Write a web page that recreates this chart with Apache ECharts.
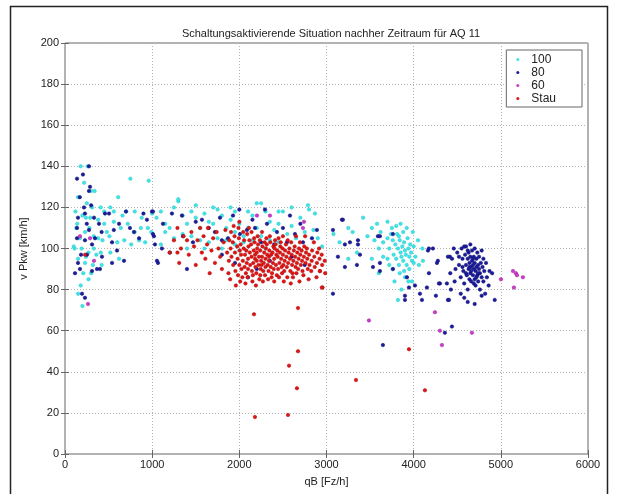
<!DOCTYPE html>
<html><head><meta charset="utf-8">
<script src="https://cdn.jsdelivr.net/npm/echarts@6/dist/echarts.min.js"></script>
<style>html,body{margin:0;padding:0;background:#fff}#c{width:617px;height:494px}</style>
</head><body><div id="c"></div>
<script>
const titleText = "Schaltungsaktivierende Situation nachher Zeitraum für AQ 11";
const seriesNames = ["100", "80", "60", "Stau"];
const xTicks = [0, 1000, 2000, 3000, 4000, 5000, 6000];
const yTicks = [0, 20, 40, 60, 80, 100, 120, 140, 160, 180, 200];

const pts100 = [
[180,140],[260,140],[220,132],[300,128],[340,128],[150,125],[250,122],[410,120],[520,120],[610,125],[700,118],[750,134],[960,133],
[120,118],[200,116],[290,115],[380,114],[450,112],[560,113],[640,110],[720,112],[800,108],[880,115],[950,110],[130,110],[230,108],
[330,106],[430,104],[510,106],[600,103],[680,104],[760,102],[850,104],[920,103],[110,100],[190,100],[270,98],[360,97],[150,95],
[230,93],[320,92],[100,101],[210,88],[270,85],[180,82],[300,88],[420,92],[520,98],[620,95],[480,108],[560,118],[660,116],[380,105],
[140,112],[170,105],[240,115],[310,120],[450,118],[200,72],[150,78],[800,118],[870,110],[240,96],[330,100],[410,98],[280,110],
[990,108],[1000,117],
[1050,115],[1100,118],[1150,112],[1200,110],[1250,120],[1300,123],[1350,116],[1400,112],[1450,118],[1500,115],[1550,110],[1600,117],
[1650,113],[1700,112],[1750,119],[1800,116],[1850,110],[1900,114],[1950,108],[2000,112],[2050,106],[2100,110],[2150,116],[2200,122],
[2250,122],[2300,118],[2350,113],[2400,109],[2450,112],[2500,118],[2550,107],[2600,111],[2700,115],[2800,119],[1150,108],[1250,105],
[1350,107],[1450,106],[1550,104],[1650,103],[1750,105],[1850,104],[1950,102],[2050,103],[2150,104],[2250,106],[2350,104],[2450,103],
[1100,102],[1300,124],[1700,120],[1900,120],[2100,118],[2650,105],[2750,108],[1600,100],[1800,100],[2000,99],[1400,100],[2300,100],
[2200,110],[1950,118],[2450,118],[2850,109],[2950,101],[2900,105],[1500,121],[2600,120],[2787,121],[2867,117],
[3080,107],[3150,103],[3250,110],[3300,108],[3420,115],[3470,106],[3520,110],[3580,112],[3620,108],[3650,103],[3700,105],[3720,100],
[3750,110],[3770,97],[3790,102],[3800,95],[3810,107],[3820,100],[3830,92],[3840,104],[3850,98],[3860,96],[3870,101],[3880,94],
[3890,103],[3900,99],[3910,97],[3920,92],[3930,105],[3940,100],[3950,96],[3960,102],[3970,98],[3980,94],[3990,108],[4000,101],
[4020,96],[4050,104],[3760,90],[3840,88],[3900,86],[3700,95],[3650,96],[3600,100],[3550,104],[3520,95],[3600,88],[3820,75],
[3860,80],[3780,84],[3950,90],[4100,100],[3920,110],[3850,112],[3740,107],[4060,92],[3350,98],[3250,95],[3980,84],[3700,113],
[3800,111],[3890,89],[3940,84],[3830,106],[3760,104],[3880,108],[4000,93],[3720,92],[4106,94]
];

const pts80 = [
[275,140],[138,134],[206,136],[287,130],[275,128],[218,120],[229,117],[149,115],[333,115],[459,117],[505,117],[700,118],[940,114],
[998,118],[138,110],[275,109],[390,112],[745,110],[791,108],[1020,106],[1032,102],[138,105],[229,104],[344,105],[540,103],[310,102],
[184,97],[252,97],[424,96],[597,99],[677,94],[540,93],[149,93],[172,90],[401,90],[115,88],[310,89],[367,90],[195,78],[229,76],
[1067,93],[170,125],[250,112],[420,108],[620,112],[850,105],[900,117],[560,109],[300,121],
[1009,118],[1227,117],[1342,116],[1571,114],[1778,115],[1009,107],[1124,112],[1353,106],[1468,103],[1720,108],[1800,104],[1870,105],
[2007,107],[2087,109],[2179,110],[2317,112],[1055,94],[1399,90],[1112,100],[1204,98],[1927,116],[2294,119],[2432,108],[1800,97],
[2581,116],[2638,107],[2833,105],[2890,109],[2546,103],[2730,103],[2000,119],[2150,114],[2400,102],[2500,110],[2700,112],[1650,110],
[1500,113],[2250,103],[2350,94],[2600,96],[2200,90],[1950,93],[2750,92],[2100,86],
[3177,114],[3074,109],[3269,103],[3361,104],[3590,106],[3131,96],[3211,91],[3349,92],[3613,93],[3074,78],[3188,114],[3211,102],
[3361,102],[3384,97],[3533,91],[3613,89],[3762,90],[3923,86],[3946,81],[3900,77],[3900,75],[4072,78],[4015,82],[4095,75],[4152,81],
[4267,93],[4175,88],[4301,83],[4381,83],[4393,75],[4439,62],[4358,59],[4175,100],[4416,96],[3762,107],[3613,106],[4164,99],
[4221,100],[4278,94],[4393,96],[4290,83],[4427,80],[4255,77],[4405,75],[3647,53],
[4500,98],[4520,92],[4540,86],[4550,100],[4560,95],[4570,89],[4580,83],[4590,97],[4600,92],[4600,101],[4610,87],[4620,95],[4620,80],
[4630,90],[4630,98],[4640,85],[4640,93],[4650,88],[4650,96],[4650,102],[4660,91],[4660,84],[4670,94],[4670,99],[4680,87],[4680,92],
[4690,90],[4690,96],[4700,85],[4700,93],[4700,100],[4710,89],[4710,82],[4720,95],[4720,91],[4730,87],[4730,98],[4740,92],[4740,84],
[4750,90],[4750,96],[4760,88],[4760,80],[4770,93],[4780,86],[4780,99],[4790,91],[4800,84],[4800,95],[4810,89],[4820,78],[4830,93],
[4840,86],[4860,82],[4870,89],[4900,88],[4930,75],[4480,90],[4470,84],[4460,100],[4440,95],[4420,88],[4540,78],[4580,76],[4620,74],
[4700,73],[4780,77],[4600,88],[4640,91],[4660,89],[4680,95],[4720,86],[4560,91],[4520,96],[4580,101],[4620,99],[4740,88],[4690,83]
];

const pts60 = [
[264,73],[172,106],[287,105],[333,94],[2202,116],[2351,116],[2741,113],[2730,110],[3487,65],[4244,69],[4301,60],[4324,53],
[4668,59],[5139,89],[5173,88],[5185,87],[5253,86],[5001,85],[5150,81]
];

const ptsStau = [
[230,97],[1200,98],[1290,110],[1290,98],[1310,93],[1400,104],[1250,104],[1330,100],[1360,106],[1420,97],[1450,108],[1480,101],
[1500,92],[1520,104],[1550,110],[1570,98],[1590,106],[1610,95],[1630,102],[1640,110],[1660,88],[1680,99],[1700,105],[1720,93],
[1740,108],[1760,100],[1780,96],[1800,90],[1820,103],[1840,109],[1860,98],
[1880,94],[1885,104],[1875,88],[1900,100],[1905,108],[1895,85],[1910,96],[1930,92],[1925,103],[1935,111],[1950,98],[1955,89],
[1945,106],[1960,82],[1980,95],[1975,101],[1985,87],[1990,110],[2000,92],[2005,99],[1995,105],[2010,84],[2000,113],[2020,97],
[2025,90],[2015,102],[2040,94],[2045,108],[2035,86],[2050,100],[2060,91],[2065,97],[2055,104],[2070,83],[2080,99],[2085,93],
[2075,88],[2090,107],[2100,95],[2105,101],[2095,86],[2110,110],[2100,90],[2120,98],[2125,92],[2115,104],[2140,96],[2145,89],
[2135,102],[2150,84],[2140,108],[2160,93],[2165,99],[2155,87],[2170,105],[2180,97],[2185,91],[2175,103],[2190,82],[2180,95],
[2200,94],[2205,100],[2195,88],[2210,106],[2200,98],[2220,92],[2225,96],[2215,102],[2230,85],[2240,99],[2245,90],[2235,104],
[2250,94],[2240,87],[2260,96],[2265,101],[2255,92],[2270,84],[2260,108],[2280,93],[2285,98],[2275,89],[2290,103],[2300,95],
[2305,100],[2295,87],[2310,105],[2300,91],[2320,97],[2325,92],[2315,102],[2330,85],[2340,94],[2345,99],[2335,89],[2350,106],
[2340,96],[2360,91],[2365,97],[2355,103],[2370,86],[2380,98],[2385,93],[2375,88],[2390,101],[2400,95],[2405,100],[2395,90],
[2410,104],[2400,84],[2420,92],[2425,97],[2415,102],[2430,87],[2440,96],[2445,90],[2435,99],[2450,105],[2460,93],[2465,98],
[2455,86],[2470,101],[2480,95],[2485,91],[2475,103],[2490,88],[2500,97],[2505,92],[2495,100],[2510,84],[2500,106],[2520,94],
[2525,99],[2515,89],[2540,96],[2545,91],[2535,102],[2550,86],[2560,93],[2565,98],[2555,104],[2580,95],[2585,89],[2575,100],
[2590,83],[2600,97],[2605,92],[2595,103],[2610,88],[2620,94],[2625,99],[2615,86],[2640,96],[2645,91],[2635,101],[2650,106],
[2660,93],[2665,98],[2655,88],[2680,95],[2685,100],[2675,90],[2690,84],[2700,97],[2705,92],[2695,103],[2720,94],[2725,89],
[2715,99],[2740,96],[2745,101],[2735,87],[2760,93],[2765,98],[2755,106],[2780,95],[2785,90],[2775,100],[2800,97],[2805,92],
[2795,85],[2830,94],[2835,99],[2825,89],[2860,96],[2865,91],[2855,103],[2890,93],[2895,98],[2885,86],[2920,95],[2925,89],
[2915,100],[2950,92],[2955,81],[2945,97],[2980,94],[2985,88],
[2168,68],[2673,71],[2673,50],[2570,43],[2661,32],[2179,18],[2558,19],[3338,36],[3946,51],[4129,31],[2947,81],[2924,89]
];

const colors = ["#3ee6e6", "#1c1c9e", "#cc3ccc", "#e01414"];
const borders = ["#28c4cc", "#0c0c70", "#a020a0", "#b00a0a"];
const dataSets = [pts100, pts80, pts60, ptsStau];

const chart = echarts.init(document.getElementById('c'), null, {renderer: 'canvas'});
const font = "'Liberation Sans', Arial, sans-serif";
const gridLine = {show: true, lineStyle: {color: '#b4b4b4', type: [1, 2], width: 1}};
chart.setOption({
  animation: false,
  backgroundColor: '#fff',
  graphic: [{type: 'rect', shape: {x: 10.5, y: 6.5, width: 597, height: 500}, style: {fill: 'none', stroke: '#222', lineWidth: 1.5}, z: 100}],
  title: {text: titleText, left: 326, top: 23, textAlign: 'center',
    textStyle: {fontFamily: font, fontSize: 11, fontWeight: 'normal', color: '#222'}},
  grid: {left: 65, right: 29, top: 43, bottom: 40, show: true, borderColor: '#666', borderWidth: 1},
  legend: {
    data: seriesNames.map(n => ({name: n, icon: 'circle'})), orient: 'vertical', right: 35, top: 50,
    backgroundColor: '#fff', borderColor: '#666', borderWidth: 1,
    padding: [3, 26, 2, 10], itemGap: 0, itemWidth: 3, itemHeight: 3,
    itemStyle: {borderWidth: 0},
    textStyle: {fontFamily: font, fontSize: 12, color: '#222', padding: [0, 0, 0, 7], lineHeight: 13}
  },
  xAxis: [{
    type: 'value', min: 0, max: 6000, interval: 1000, name: 'qB [Fz/h]', nameLocation: 'middle', nameGap: 22,
    nameTextStyle: {fontFamily: font, fontSize: 11, color: '#222'},
    axisLine: {show: false}, axisTick: {show: true, inside: true, length: 4, lineStyle: {color: '#666'}},
    axisLabel: {fontFamily: font, fontSize: 11, color: '#222', margin: 5, formatter: v => xTicks.includes(v) ? String(v) : ''},
    splitLine: gridLine
  }, {
    type: 'value', position: 'top', min: 0, max: 6000, interval: 1000,
    axisLine: {show: false}, axisTick: {show: true, inside: true, length: 4, lineStyle: {color: '#666'}},
    axisLabel: {show: false}, splitLine: {show: false}
  }],
  yAxis: [{
    type: 'value', min: 0, max: 200, interval: 20, name: 'v Pkw [km/h]', nameLocation: 'middle', nameGap: 36,
    nameTextStyle: {fontFamily: font, fontSize: 11, color: '#222'},
    axisLine: {show: false}, axisTick: {show: true, inside: true, length: 4, lineStyle: {color: '#666'}},
    axisLabel: {fontFamily: font, fontSize: 11, color: '#222', margin: 6, formatter: v => yTicks.includes(v) ? String(v) : ''},
    splitLine: gridLine
  }, {
    type: 'value', position: 'right', min: 0, max: 200, interval: 20,
    axisLine: {show: false}, axisTick: {show: true, inside: true, length: 4, lineStyle: {color: '#666'}},
    axisLabel: {show: false}, splitLine: {show: false}
  }],
  series: seriesNames.map((n, i) => ({
    name: n, type: 'scatter', data: dataSets[i], symbolSize: 3.5,
    xAxisIndex: 0, yAxisIndex: 0,
    itemStyle: {color: colors[i], borderColor: borders[i], borderWidth: 0.5, opacity: 1}
  }))
});
</script></body></html>
